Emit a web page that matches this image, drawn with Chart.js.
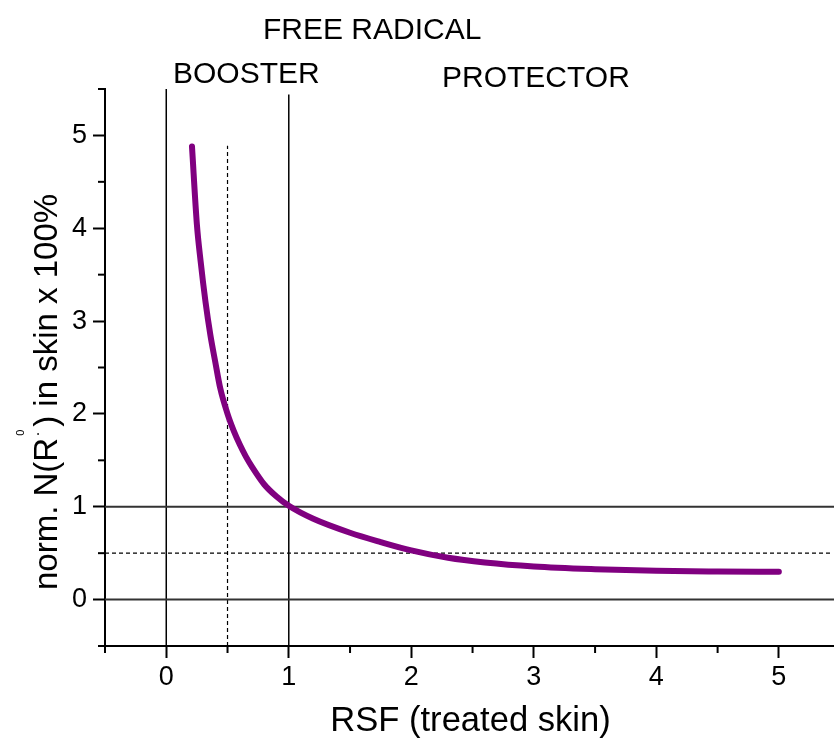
<!DOCTYPE html>
<html><head><meta charset="utf-8">
<script src="https://cdn.jsdelivr.net/npm/chart.js@4/dist/chart.umd.min.js"></script>
<style>html,body{margin:0;padding:0;background:#fff}#wrap{width:834px;height:740px}</style>
</head><body><div id="wrap"><canvas id="c" width="834" height="740"></canvas></div>
<script>
// ---- data ----
const rsf = [0.21, 0.25, 0.28, 0.32, 0.36, 0.40, 0.44, 0.50, 0.55, 0.60, 0.65, 0.70, 0.80, 0.90, 1.00, 1.20, 1.50, 1.75, 2.00, 2.30, 2.60, 3.00, 3.50, 4.00, 4.50, 5.00];
const normN = [4.88, 4.04, 3.65, 3.21, 2.85, 2.56, 2.28, 2.00, 1.82, 1.67, 1.54, 1.43, 1.24, 1.11, 1.01, 0.87, 0.72, 0.62, 0.53, 0.45, 0.40, 0.357, 0.328, 0.31, 0.303, 0.30];
const xTickLabels = ['0', '1', '2', '3', '4', '5'];
const yTickLabels = ['0', '1', '2', '3', '4', '5'];
const xRange = [-0.5, 5.45];
const yRange = [-0.5, 5.5];
const solidHLines = [0, 1];
const dashedHLines = [0.5];
const solidVLines = [{x: 0, top: 5.5}, {x: 1, top: 5.44}];
const dashedVLines = [{x: 0.5, top: 4.89}];
const dashedHRight = 5.42;
const regionLabels = ['FREE RADICAL', 'BOOSTER', 'PROTECTOR'];
const xTitle = 'RSF (treated skin)';

const FONT = '"Liberation Sans", Arial, Helvetica, sans-serif';
const isInt = v => Math.abs(v - Math.round(v)) < 1e-6;

const datasets = [{
  data: rsf.map((x, i) => ({x, y: normN[i]})),
  borderColor: '#800080', borderWidth: 6, pointRadius: 0,
  cubicInterpolationMode: 'monotone', borderCapStyle: 'round', borderJoinStyle: 'round', fill: false
}];
solidHLines.forEach(y => datasets.push({
  data: [{x: xRange[0], y}, {x: xRange[1], y}], borderColor: '#333', borderWidth: 2, pointRadius: 0, fill: false
}));
dashedHLines.forEach(y => datasets.push({
  data: [{x: xRange[0], y}, {x: dashedHRight, y}], borderColor: '#000', borderWidth: 1.2, borderDash: [4, 3], pointRadius: 0, fill: false
}));
solidVLines.forEach(l => datasets.push({
  data: [{x: l.x, y: yRange[0]}, {x: l.x, y: l.top}], borderColor: '#000', borderWidth: 1.5, pointRadius: 0, fill: false
}));
dashedVLines.forEach(l => datasets.push({
  data: [{x: l.x, y: yRange[0]}, {x: l.x, y: l.top}], borderColor: '#000', borderWidth: 1.2, borderDash: [4, 3], pointRadius: 0, fill: false
}));

const decor = {
  id: 'decor',
  afterDraw(chart) {
    const {ctx, scales: {x, y}, chartArea: a} = chart;
    ctx.save();
    ctx.strokeStyle = '#000';
    ctx.lineWidth = 2;
    // minor ticks
    x.ticks.forEach(t => {
      if (!isInt(t.value)) {
        const px = x.getPixelForValue(t.value);
        ctx.beginPath(); ctx.moveTo(px, a.bottom); ctx.lineTo(px, a.bottom + 7); ctx.stroke();
      }
    });
    y.ticks.forEach(t => {
      if (!isInt(t.value)) {
        const py = y.getPixelForValue(t.value);
        ctx.beginPath(); ctx.moveTo(a.left, py); ctx.lineTo(a.left - 7, py); ctx.stroke();
      }
    });
    // region labels
    ctx.fillStyle = '#000';
    ctx.textBaseline = 'alphabetic';
    ctx.textAlign = 'left';
    ctx.font = '30px ' + FONT;
    ctx.fillText(regionLabels[0], 263, 39);
    ctx.fillText(regionLabels[1], 173, 83);
    ctx.fillText(regionLabels[2], 442, 87);
    // x title
    ctx.textAlign = 'center';
    ctx.font = '34.6px ' + FONT;
    ctx.fillText(xTitle, (a.left + a.right) / 2 + 1, 731);
    // y title with superscripts
    ctx.translate(57, 590);
    ctx.rotate(-Math.PI / 2);
    ctx.textAlign = 'left';
    const big = '33px ' + FONT;
    ctx.font = big;
    const p1 = 'norm. N(R';
    ctx.fillText(p1, 0, 0);
    let cx = ctx.measureText(p1).width;
    ctx.font = '16px ' + FONT;
    ctx.fillText('·', cx + 1, -14);
    ctx.font = '11px ' + FONT;
    ctx.fillText('0', cx + 2, -33);
    cx += 11;
    ctx.font = big;
    ctx.fillText(') in skin x 100%', cx, 0);
    ctx.restore();
  }
};

new Chart(document.getElementById('c'), {
  type: 'line',
  data: {datasets},
  options: {
    responsive: false, animation: false, devicePixelRatio: 1,
    layout: {padding: {top: 89, right: 0, left: 0, bottom: 0}},
    plugins: {legend: {display: false}, tooltip: {enabled: false}},
    scales: {
      x: {
        type: 'linear', min: xRange[0], max: xRange[1],
        afterFit: s => { s.height = 94; },
        ticks: {
          stepSize: 0.5, includeBounds: false, autoSkip: false, maxRotation: 0,
          color: '#000', font: {family: FONT, size: 27}, padding: 3,
          callback: v => isInt(v) && xTickLabels.includes(String(Math.round(v))) ? String(Math.round(v)) : ''
        },
        grid: {drawOnChartArea: false, drawTicks: true, tickLength: 12, tickWidth: 2,
               tickColor: c => (c.tick && isInt(c.tick.value)) ? '#000' : 'rgba(0,0,0,0)'},
        border: {display: true, color: '#000', width: 2}
      },
      y: {
        type: 'linear', min: yRange[0], max: yRange[1],
        afterFit: s => { s.width = 105; },
        ticks: {
          stepSize: 0.5, includeBounds: false, autoSkip: false,
          color: '#000', font: {family: FONT, size: 27}, padding: 6,
          callback: v => isInt(v) && yTickLabels.includes(String(Math.round(v))) ? String(Math.round(v)) : ''
        },
        grid: {drawOnChartArea: false, drawTicks: true, tickLength: 12, tickWidth: 2,
               tickColor: c => (c.tick && isInt(c.tick.value)) ? '#000' : 'rgba(0,0,0,0)'},
        border: {display: true, color: '#000', width: 2}
      }
    }
  },
  plugins: [decor]
});
</script></body></html>
